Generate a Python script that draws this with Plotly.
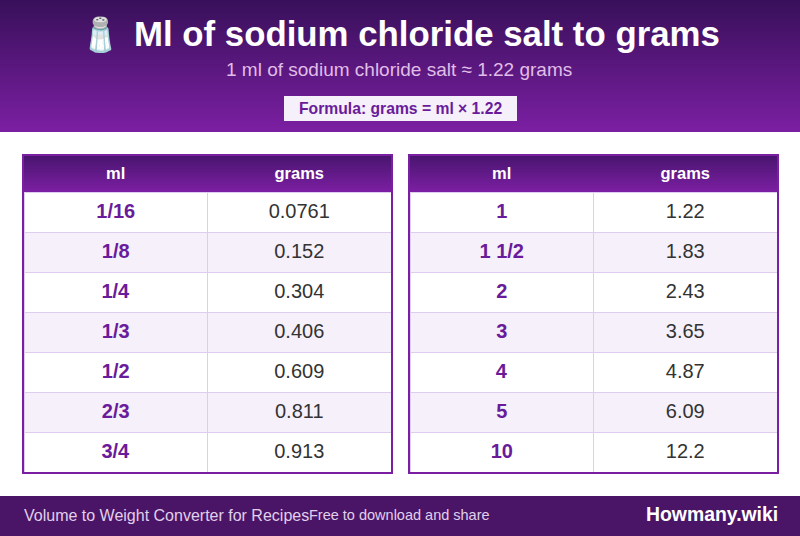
#!/usr/bin/env python3
"""Ml of sodium chloride salt to grams: conversion card with two tables."""
import plotly.graph_objects as go

W, H = 800, 536

ICON = "🧂"
TITLE = "Ml of sodium chloride salt to grams"
SUBTITLE = "1 ml of sodium chloride salt ≈ 1.22 grams"
FORMULA = "Formula: grams = ml × 1.22"
COLUMNS = ["ml", "grams"]
LEFT_ML = ["1/16", "1/8", "1/4", "1/3", "1/2", "2/3", "3/4"]
LEFT_GRAMS = ["0.0761", "0.152", "0.304", "0.406", "0.609", "0.811", "0.913"]
RIGHT_ML = ["1", "1 1/2", "2", "3", "4", "5", "10"]
RIGHT_GRAMS = ["1.22", "1.83", "2.43", "3.65", "4.87", "6.09", "12.2"]
FOOT_LEFT = "Volume to Weight Converter for Recipes"
FOOT_MID = "Free to download and share"
FOOT_BRAND = "Howmany.wiki"

FONT = "Liberation Sans, Arial, sans-serif"
PURPLE = "#7b1fa2"
INK = "#6a1b9a"
TINT = "#f5f0fa"


def mix(c0, c1, t):
    a = [int(c0[i:i + 2], 16) for i in (1, 3, 5)]
    b = [int(c1[i:i + 2], 16) for i in (1, 3, 5)]
    return "rgb(%d,%d,%d)" % tuple(round(p + (q - p) * t) for p, q in zip(a, b))


def rect(x0, y0, x1, y1, fill, line=None, width=0, layer="below"):
    return dict(type="rect", xref="x", yref="y", x0=x0, y0=y0, x1=x1, y1=y1, layer=layer,
                fillcolor=fill, line=dict(color=line or fill, width=width))


def gradient(x0, y0, x1, y1, c0, c1):
    # plotly shapes have no gradient fill, so stack 1px strips
    n = y1 - y0
    return [rect(x0, y0 + i, x1, y0 + i + 1, mix(c0, c1, i / (n - 1))) for i in range(n)]


def table(ml, grams, x0):
    fills = ["white" if i % 2 == 0 else TINT for i in range(len(ml))]
    return go.Table(
        domain=dict(x=[x0 / W, (x0 + 367) / W], y=[(H - 474) / H, (H - 156) / H]),
        columnwidth=[1, 1],
        header=dict(values=[f"<b>{c}</b>" for c in COLUMNS], height=36,
                    fill_color="rgba(0,0,0,0)", line=dict(color="rgba(0,0,0,0)", width=0),
                    align="center", font=dict(family=FONT, size=16.5, color="white")),
        cells=dict(values=[[f"<b>{m}</b>" for m in ml], [f"<span>{g}</span>" for g in grams]],
                   height=40, fill_color=[fills, fills], line=dict(color="#dfcdef", width=1),
                   align="center",
                   font=dict(family=FONT, size=20, color=[INK, "#333333"])))


fig = go.Figure([table(LEFT_ML, LEFT_GRAMS, 24), table(RIGHT_ML, RIGHT_GRAMS, 410)])

shapes = gradient(0, 0, W, 132, "#38105a", PURPLE)
shapes += gradient(24, 156, 391, 192, "#4a1570", PURPLE)
shapes += gradient(410, 156, 777, 192, "#4a1570", PURPLE)
shapes += [
    rect(284, 96, 517, 121, TINT),
    rect(0, 496, W, H, "#4a1566"),
    rect(23, 155, 392, 473, "rgba(0,0,0,0)", PURPLE, 2, "above"),
    rect(409, 155, 778, 473, "rgba(0,0,0,0)", PURPLE, 2, "above"),
]


def label(x, y, text, size, color, anchor="center", bold=False):
    return dict(x=x, y=y, xref="x", yref="y", showarrow=False, xanchor=anchor, yanchor="middle",
                text=f"<b>{text}</b>" if bold else text,
                font=dict(family=FONT, size=size, color=color))


fig.update_layout(
    width=W, height=H, margin=dict(l=0, r=0, t=0, b=0), autosize=False,
    paper_bgcolor="white", plot_bgcolor="white", showlegend=False,
    xaxis=dict(range=[0, W], visible=False, fixedrange=True),
    yaxis=dict(range=[H, 0], visible=False, fixedrange=True),
    shapes=shapes,
    annotations=[
        label(100.5, 34, ICON, 33, "white"),
        label(132, 33, TITLE, 34.8, "white", "left", bold=True),
        label(399, 69, SUBTITLE, 19, "#e1bee7"),
        label(400, 108, FORMULA, 15.7, INK, bold=True),
        label(22, 515, FOOT_LEFT, 16, "#e1d0ec", "left"),
        label(307, 515, FOOT_MID, 14.5, "#e1d0ec", "left"),
        label(780, 514, FOOT_BRAND, 19.4, "white", "right", bold=True),
    ])
# invisible trace so the pixel axes above exist for shapes and labels
fig.add_trace(go.Scatter(x=[0, W], y=[0, H], mode="markers", marker=dict(opacity=0), hoverinfo="skip"))

fig.write_html("out.html", config=dict(displayModeBar=False),
               post_script="document.body.style.margin='0';")
